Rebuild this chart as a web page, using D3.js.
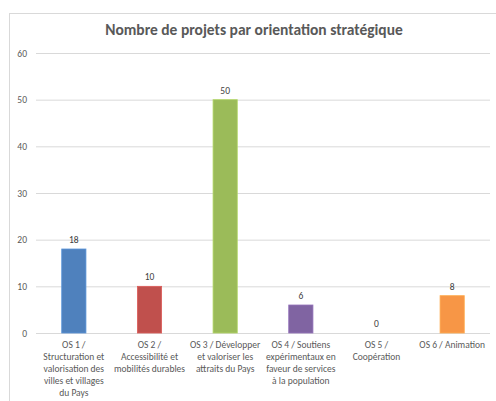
<!DOCTYPE html>
<html><head><meta charset="utf-8">
<script src="https://cdn.jsdelivr.net/npm/d3@7"></script>
<style>
html,body{margin:0;padding:0;background:#fff;}
svg{display:block;}
text{font-family:Carlito, Calibri, Lato, "Open Sans", sans-serif;}
</style></head>
<body>
<svg id="c" width="496" height="401"></svg>
<script>
const title = "Nombre de projets par orientation stratégique";
const categories = [
  "OS 1 / Structuration et valorisation des villes et villages du Pays",
  "OS 2 / Accessibilité et mobilités durables",
  "OS 3 / Développer et valoriser les attraits du Pays",
  "OS 4 / Soutiens expérimentaux en faveur de services à la population",
  "OS 5 / Coopération",
  "OS 6 / Animation"
];
const categoryLines = [
  ["OS 1 /", "Structuration et", "valorisation des", "villes et villages", "du Pays"],
  ["OS 2 /", "Accessibilité et", "mobilités durables"],
  ["OS 3 / Développer", "et valoriser les", "attraits du Pays"],
  ["OS 4 / Soutiens", "expérimentaux en", "faveur de services", "à la population"],
  ["OS 5 /", "Coopération"],
  ["OS 6 / Animation"]
];
const values = [18, 10, 50, 6, 0, 8];
const colors = ["#4F81BD", "#C0504D", "#9BBB59", "#8064A2", "#4BACC6", "#F79646"];
const yTicks = [0, 10, 20, 30, 40, 50, 60];

const svg = d3.select("#c");
svg.append("rect").attr("x", 9.5).attr("y", 13.5).attr("width", 500).attr("height", 400)
  .attr("fill", "#fff").attr("stroke", "#d9d9d9");

svg.append("text").attr("x", 254).attr("y", 35).attr("text-anchor", "middle")
  .attr("font-size", 15.5).attr("font-weight", "bold").attr("fill", "#595959").text(title);

const x = d3.scaleBand().domain(categories).range([36, 490]).paddingInner(0.68).paddingOuter(0.34);
const y = d3.scaleLinear().domain([0, 60]).range([333, 53]);

const yAxis = d3.axisLeft(y).tickValues(yTicks).tickSize(-(490 - 36)).tickPadding(9);
const ga = svg.append("g").attr("transform", "translate(36,0)").call(yAxis);
ga.select(".domain").remove();
ga.selectAll(".tick line").attr("stroke", "#d9d9d9");
ga.selectAll(".tick text").attr("fill", "#595959").attr("font-size", 9.5);

svg.append("line").attr("x1", 36).attr("x2", 490).attr("y1", y(0) + 0.5).attr("y2", y(0) + 0.5)
  .attr("stroke", "#d9d9d9");

svg.selectAll("rect.bar").data(values).join("rect").attr("class", "bar")
  .attr("x", (d, i) => x(categories[i]))
  .attr("y", d => y(d))
  .attr("width", x.bandwidth())
  .attr("height", d => y(0) - y(d))
  .attr("fill", (d, i) => colors[i])
  .attr("stroke", (d, i) => d3.color(colors[i]).brighter(0.4))
  .attr("stroke-width", 0.8);

svg.selectAll("text.val").data(values).join("text").attr("class", "val")
  .attr("x", (d, i) => x(categories[i]) + x.bandwidth() / 2)
  .attr("y", d => y(d) - 6)
  .attr("text-anchor", "middle").attr("font-size", 9.5).attr("fill", "#404040")
  .text(d => d);

categoryLines.forEach((lines, i) => {
  const cx = x(categories[i]) + x.bandwidth() / 2;
  const t = svg.append("text").attr("text-anchor", "middle").attr("font-size", 9.5).attr("fill", "#595959");
  lines.forEach((l, j) => {
    t.append("tspan").attr("x", cx).attr("y", 348 + j * 12).text(l);
  });
});
</script>
</body></html>
